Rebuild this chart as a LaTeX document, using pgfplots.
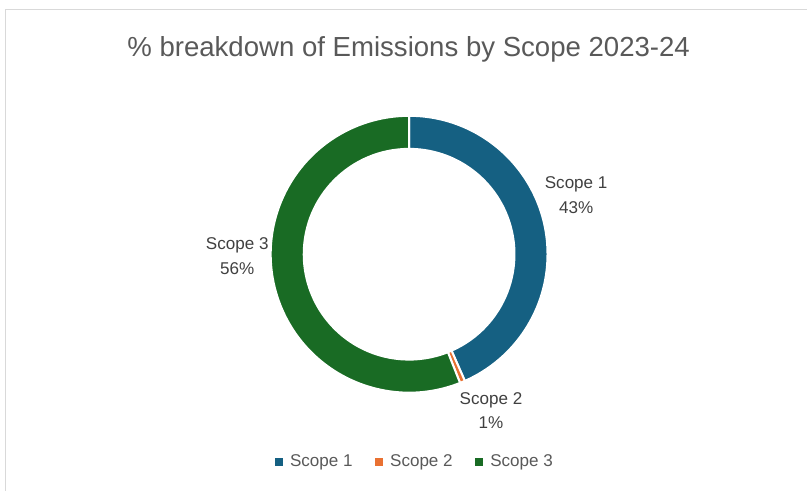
\documentclass[border=0pt]{standalone}
\usepackage{fontspec}
\setmainfont{Liberation Sans}
\usepackage{pgfplots}
\usepackage{pgfplotstable}
\pgfplotsset{compat=1.18}

\definecolor{scopeA}{HTML}{156082}
\definecolor{scopeB}{HTML}{E97132}
\definecolor{scopeC}{HTML}{196B24}
\definecolor{titlegray}{HTML}{595959}
\definecolor{labelgray}{HTML}{404040}
\definecolor{framegray}{HTML}{D9D9D9}

% share of emissions (%) per scope, 2023-24
\pgfplotstableread{
scope value
1 43.4
2 0.6
3 56.0
}\scopedata

\begin{document}
\begin{tikzpicture}[lbl/.style={anchor=base, text=labelgray, font=\fontsize{12.8}{15}\selectfont}]
% donut geometry (axis units = pt): centre, outer and inner radius
\def\cx{307.1}\def\cy{177.4}\def\ro{103.9}\def\ri{79.1}
\pgfplotstablegetelem{0}{value}\of\scopedata\let\vA\pgfplotsretval
\pgfplotstablegetelem{1}{value}\of\scopedata\let\vB\pgfplotsretval
\pgfplotstablegetelem{2}{value}\of\scopedata\let\vC\pgfplotsretval
% slices start at 12 o'clock and run clockwise
\pgfmathsetmacro\aA{90}
\pgfmathsetmacro\aB{\aA-3.6*\vA}
\pgfmathsetmacro\aC{\aB-3.6*\vB}
\pgfmathsetmacro\aD{\aC-3.6*\vC}
\newcommand\slice[3]{% colour, start angle, end angle
  \fill[#1, draw=white, line width=1.5pt]
    (axis cs:{\cx+\ro*cos(#2)},{\cy+\ro*sin(#2)})
    arc[start angle=#2, end angle=#3, radius=\ro pt]
    -- (axis cs:{\cx+\ri*cos(#3)},{\cy+\ri*sin(#3)})
    arc[start angle=#3, end angle=#2, radius=\ri pt] -- cycle;}
\begin{axis}[
  x=1pt, y=1pt,
  xmin=0, xmax=606, ymin=0, ymax=368.25,
  hide axis, clip=false,
  legend columns=3,
  legend image code/.code={\fill[#1] (0pt,-2.5pt) rectangle (5pt,2.5pt);
    \path[draw=none, fill=none] (0pt,0pt) rectangle (9pt,0pt);},
  legend style={draw=none, fill=none, at={(axis cs:311.75,21.75)}, anchor=center,
    font=\fontsize{12.8}{15}\selectfont, text=titlegray,
    /tikz/every even column/.append style={column sep=15pt}},
]
\path (axis cs:0,0) rectangle (axis cs:606,368.25);
\draw[framegray, line width=1.1pt] (axis cs:4.3,0) -- (axis cs:4.3,361) -- (axis cs:606,361);

\slice{scopeA}{\aA}{\aB}
\slice{scopeB}{\aB}{\aC}
\slice{scopeC}{\aC}{\aD}

\addlegendimage{scopeA}\addlegendentry{Scope 1}
\addlegendimage{scopeB}\addlegendentry{Scope 2}
\addlegendimage{scopeC}\addlegendentry{Scope 3}

\node[anchor=base, text=titlegray, font=\fontsize{20.7}{24}\selectfont]
  at (axis cs:306.75,325.7) {\% breakdown of Emissions by Scope 2023-24};

\node[lbl] at (axis cs:432.5,227.0) {Scope 1};
\node[lbl] at (axis cs:432.5,208.3) {43\%};
\node[lbl] at (axis cs:368.6,64.5) {Scope 2};
\node[lbl] at (axis cs:368.6,46.5) {1\%};
\node[lbl] at (axis cs:178.1,180.75) {Scope 3};
\node[lbl] at (axis cs:178.1,162.5) {56\%};
\end{axis}
\end{tikzpicture}
\end{document}
